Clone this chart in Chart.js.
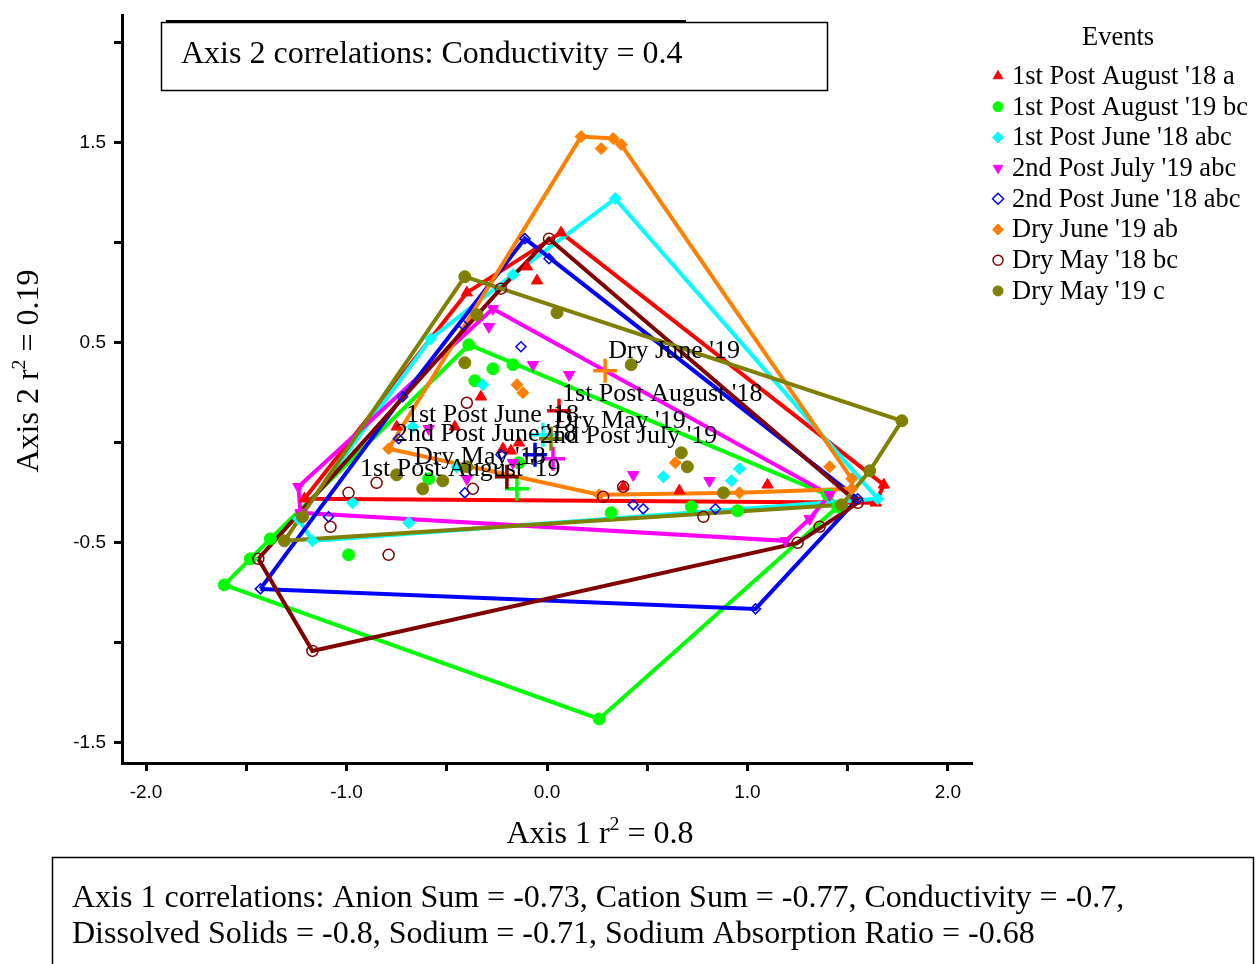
<!DOCTYPE html>
<html>
<head>
<meta charset="utf-8">
<script src="https://cdn.jsdelivr.net/npm/chart.js@4.4.1/dist/chart.umd.min.js"></script>
<style>
  html, body { margin: 0; padding: 0; background: #fff; }
  canvas { display: block; }
</style>
</head>
<body>
<canvas id="ordination" width="1260" height="964"></canvas>
<script>
// ---- Events (legend text) and centroid labels ----
const eventNames = [
  "1st Post August '18 a", "1st Post August '19 bc", "1st Post June '18 abc",
  "2nd Post July '19 abc", "2nd Post June '18 abc", "Dry June '19 ab",
  "Dry May '18 bc", "Dry May '19 c"
];
const centroidNames = [
  "1st Post August '18", "1st Post August '19", "1st Post June '18",
  "2nd Post July '19", "2nd Post June '18", "Dry June '19",
  "Dry May '18", "Dry May '19"
];

// ---- Sample scores [Axis 1, Axis 2] per event ----
const post1Aug18 = [[-1.21,-0.28],[-0.40,0.75],[0.07,1.05],[-0.10,0.88],[-0.05,0.81],[-0.33,0.23],
  [-0.75,0.08],[-0.46,0.08],[-0.22,-0.03],[-0.18,-0.04],[-0.14,0.00],[0.38,-0.22],[0.66,-0.24],
  [1.10,-0.21],[1.68,-0.21],[1.64,-0.30]];
const post1Aug19 = [[-0.39,0.49],[-0.27,0.37],[-0.17,0.39],[-0.36,0.31],[-0.59,-0.18],[-0.14,-0.10],
  [-0.99,-0.56],[-1.48,-0.58],[-1.38,-0.48],[-1.61,-0.71],[0.26,-1.38],[0.32,-0.35],[0.72,-0.32],
  [0.95,-0.34],[1.40,-0.26],[1.45,-0.32]];
const post1Jun18 = [[0.34,1.22],[-0.17,0.84],[-0.58,0.52],[-0.32,0.29],[-0.67,0.08],[-0.45,-0.12],
  [-0.97,-0.30],[-0.69,-0.40],[-1.24,-0.38],[-1.17,-0.49],[0.58,-0.17],[0.92,-0.19],[0.96,-0.13],
  [1.65,-0.28]];
const post2Jul19 = [[-0.27,0.67],[-0.29,0.58],[-0.07,0.39],[0.11,0.34],[-0.59,0.07],[-0.40,-0.18],
  [-0.17,-0.10],[0.43,-0.16],[0.81,-0.19],[-1.24,-0.22],[-1.23,-0.35],[1.41,-0.26],[1.31,-0.38],
  [1.19,-0.49]];
const post2Jun18 = [[-0.11,1.02],[0.01,0.92],[-0.42,0.59],[-0.13,0.48],[-0.72,0.23],[-0.74,0.02],
  [-0.23,-0.06],[-0.41,-0.25],[-1.09,-0.37],[0.43,-0.31],[0.48,-0.33],[0.84,-0.33],[1.55,-0.28],
  [1.04,-0.83],[-1.43,-0.73]];
const dryJun19 = [[0.17,1.53],[0.33,1.52],[0.37,1.49],[0.27,1.47],[-0.15,0.29],[-0.12,0.25],
  [0.64,-0.10],[1.41,-0.12],[1.52,-0.18],[1.52,-0.23],[0.96,-0.25],[0.26,-0.26],[-0.79,-0.03]];
const dryMay18 = [[0.01,1.02],[-0.23,0.77],[-0.40,0.20],[-0.85,-0.20],[-0.99,-0.25],[-1.08,-0.42],
  [-0.79,-0.56],[-0.37,-0.23],[0.28,-0.27],[0.38,-0.22],[0.78,-0.37],[1.36,-0.42],[1.25,-0.50],
  [1.55,-0.30],[-1.17,-1.04],[-1.44,-0.58]];
const dryMay19 = [[-0.41,0.83],[-0.35,0.64],[0.05,0.65],[-0.41,0.40],[0.42,0.39],[0.67,-0.05],
  [0.70,-0.12],[0.88,-0.25],[1.77,0.11],[1.61,-0.14],[1.47,-0.31],[-1.31,-0.49],[-1.22,-0.37],
  [-0.75,-0.16],[-0.62,-0.23],[-0.52,-0.19],[-0.40,-0.12]];
const eventScores = [post1Aug18, post1Aug19, post1Jun18, post2Jul19, post2Jun18, dryJun19, dryMay18, dryMay19];

// ---- Event centroids ----
const centroidX = [0.06, -0.15, -0.02, 0.03, -0.06, 0.29, -0.20, 0.02];
const centroidY = [0.16, -0.23, 0.04, -0.08, -0.06, 0.36, -0.17, 0.02];

// ---- Axis ticks ----
const xTickValues = [-2, -1.5, -1, -0.5, 0, 0.5, 1, 1.5, 2];
const xTickLabels = ['-2.0', '', '-1.0', '', '0.0', '', '1.0', '', '2.0'];
const yTickValues = [-1.5, -1, -0.5, 0, 0.5, 1, 1.5, 2];
const yTickLabels = ['-1.5', '', '-0.5', '', '0.5', '', '1.5', ''];

// ---- Appearance ----
const SERIF = "'Liberation Serif', 'Times New Roman', Times, serif";
const SANS = "'Liberation Sans', Arial, Helvetica, sans-serif";
const eventStyles = [
  { color: '#ff0000', pointStyle: 'triangle', rotation: 0,   radius: 6.5, filled: true },
  { color: '#00ff00', pointStyle: 'circle',   rotation: 0,   radius: 6,   filled: true },
  { color: '#00ffff', pointStyle: 'rectRot',  rotation: 0,   radius: 6,   filled: true },
  { color: '#ff00ff', pointStyle: 'triangle', rotation: 180, radius: 6.5, filled: true },
  { color: '#0000ff', pointStyle: 'rectRot',  rotation: 0,   radius: 5,   filled: false },
  { color: '#ff8000', pointStyle: 'rectRot',  rotation: 0,   radius: 6,   filled: true },
  { color: '#800000', pointStyle: 'circle',   rotation: 0,   radius: 5.5, filled: false },
  { color: '#808000', pointStyle: 'circle',   rotation: 0,   radius: 6,   filled: true }
];
// label placement relative to its centroid marker: [left edge dx, middle dy] in px
const labelOffsets = [[3,-17],[-157,-20],[-137,-20],[-13,-23],[-140,-21],[3,-20],[-93,-20],[3,-18]];

// Convex hull (monotone chain), closed back to its first vertex
function convexHull(points) {
  const p = points.slice().sort((a, b) => a[0] - b[0] || a[1] - b[1]);
  const cross = (o, a, b) => (a[0] - o[0]) * (b[1] - o[1]) - (a[1] - o[1]) * (b[0] - o[0]);
  const lower = [];
  for (const q of p) {
    while (lower.length >= 2 && cross(lower[lower.length - 2], lower[lower.length - 1], q) <= 0) lower.pop();
    lower.push(q);
  }
  const upper = [];
  for (let i = p.length - 1; i >= 0; i--) {
    const q = p[i];
    while (upper.length >= 2 && cross(upper[upper.length - 2], upper[upper.length - 1], q) <= 0) upper.pop();
    upper.push(q);
  }
  lower.pop(); upper.pop();
  const h = lower.concat(upper);
  h.push(h[0]);
  return h;
}
const toXY = arr => arr.map(([x, y]) => ({ x, y }));

const datasets = [];
eventScores.forEach((pts, i) => {
  const st = eventStyles[i];
  datasets.push({
    label: eventNames[i] + ' hull',
    data: toXY(convexHull(pts)),
    showLine: true, borderColor: st.color, borderWidth: 4, pointRadius: 0,
    fill: false, tension: 0, order: 100 - i, clip: false
  });
  datasets.push({
    label: eventNames[i],
    data: toXY(pts),
    showLine: false,
    pointStyle: st.pointStyle, rotation: st.rotation, pointRadius: st.radius,
    pointBackgroundColor: st.filled ? st.color : 'rgba(0,0,0,0)',
    pointBorderColor: st.color, pointBorderWidth: st.filled ? 1 : 1.5,
    order: 50 - i, clip: false
  });
  datasets.push({
    label: centroidNames[i] + ' centroid',
    data: [{ x: centroidX[i], y: centroidY[i] }],
    showLine: false, pointStyle: 'cross', pointRadius: 12,
    pointBorderColor: st.color, pointBorderWidth: 3.5,
    order: 20 - i, clip: false
  });
});

function drawRich(ctx, parts, x, y, size, align) {
  // parts: [text, isSuperscript]
  const widths = parts.map(([t, sup]) => {
    ctx.font = (sup ? size * 0.62 : size) + 'px ' + SERIF;
    return ctx.measureText(t).width;
  });
  const total = widths.reduce((a, b) => a + b, 0);
  let cx = align === 'center' ? x - total / 2 : x;
  ctx.textAlign = 'left';
  ctx.textBaseline = 'alphabetic';
  parts.forEach(([t, sup], k) => {
    ctx.font = (sup ? size * 0.62 : size) + 'px ' + SERIF;
    ctx.fillText(t, cx, sup ? y - size * 0.4 : y);
    cx += widths[k];
  });
}

const decorations = {
  id: 'decorations',
  afterDatasetsDraw(chart) {
    const { ctx, scales: { x, y } } = chart;
    ctx.save();
    ctx.fillStyle = '#000';
    ctx.font = '26px ' + SERIF;
    ctx.textAlign = 'left';
    ctx.textBaseline = 'middle';
    centroidNames.forEach((name, i) => {
      const px = x.getPixelForValue(centroidX[i]);
      const py = y.getPixelForValue(centroidY[i]);
      ctx.fillText(name, px + labelOffsets[i][0], py + labelOffsets[i][1]);
    });
    ctx.restore();
  },
  afterDraw(chart) {
    const ctx = chart.ctx;
    ctx.save();
    ctx.fillStyle = '#000';
    ctx.strokeStyle = '#000';

    // axis titles
    drawRich(ctx, [['Axis 1 r', false], ['2', true], [' = 0.8', false]], 600, 843, 32, 'center');
    ctx.save();
    ctx.translate(38, 371);
    ctx.rotate(-Math.PI / 2);
    drawRich(ctx, [['Axis 2 r', false], ['2', true], [' = 0.19', false]], 0, 0, 32, 'center');
    ctx.restore();

    // correlation boxes
    ctx.lineWidth = 1.5;
    ctx.strokeRect(161.5, 22.5, 666, 68);
    ctx.lineWidth = 3;
    ctx.beginPath(); ctx.moveTo(166, 21.5); ctx.lineTo(686, 21.5); ctx.stroke();
    ctx.font = '32px ' + SERIF;
    ctx.textAlign = 'left';
    ctx.textBaseline = 'alphabetic';
    ctx.fillText('Axis 2 correlations: Conductivity = 0.4', 181, 63);

    ctx.lineWidth = 1.5;
    ctx.strokeRect(52.5, 857.5, 1201, 140);
    ctx.font = '32px ' + SERIF;
    ctx.fillText('Axis 1 correlations: Anion Sum = -0.73, Cation Sum = -0.77, Conductivity = -0.7,', 72, 907);
    ctx.fillText('Dissolved Solids = -0.8, Sodium = -0.71, Sodium Absorption Ratio = -0.68', 72, 943);

    // legend
    ctx.font = '26.5px ' + SERIF;
    ctx.textAlign = 'center';
    ctx.textBaseline = 'middle';
    ctx.fillText('Events', 1118, 38);
    eventNames.forEach((name, i) => {
      const st = eventStyles[i];
      const yy = 76 + i * 30.7;
      ctx.fillStyle = st.filled ? st.color : '#fff';
      ctx.strokeStyle = st.color;
      ctx.lineWidth = st.filled ? 1 : 1.5;
      Chart.helpers.drawPoint(ctx, {
        pointStyle: st.pointStyle, rotation: st.rotation,
        radius: st.pointStyle === 'circle' ? 5 : 5.5, borderWidth: ctx.lineWidth
      }, 998, yy);
      ctx.fillStyle = '#000';
      ctx.textAlign = 'left';
      ctx.fillText(name, 1012, yy + 1);
    });
    ctx.restore();
  }
};

const tickFont = { family: SANS, size: 19 };
new Chart(document.getElementById('ordination'), {
  type: 'scatter',
  data: { datasets },
  options: {
    responsive: false,
    animation: false,
    devicePixelRatio: 1,
    layout: { padding: { left: 0, top: 10, right: 288, bottom: 0 } },
    plugins: { legend: { display: false }, tooltip: { enabled: false } },
    scales: {
      x: {
        type: 'linear', min: -2.12, max: 2.12,
        afterBuildTicks: s => { s.ticks = xTickValues.map(v => ({ value: v })); },
        afterFit: s => { s.height = 201; s.paddingLeft = 0; s.paddingRight = 0; },
        ticks: {
          autoSkip: false, maxRotation: 0, color: '#000', font: tickFont, padding: 10,
          callback: (v) => xTickLabels[xTickValues.indexOf(v)] ?? ''
        },
        grid: { drawOnChartArea: false, drawTicks: true, tickLength: 8, tickWidth: 3, tickColor: '#000' },
        border: { display: true, color: '#000', width: 3 }
      },
      y: {
        type: 'linear', min: -1.60, max: 2.135,
        afterBuildTicks: s => { s.ticks = yTickValues.map(v => ({ value: v })); },
        afterFit: s => { s.width = 122; s.paddingTop = 0; s.paddingBottom = 0; },
        ticks: {
          autoSkip: false, color: '#000', font: tickFont, padding: 8,
          callback: (v) => yTickLabels[yTickValues.indexOf(v)] ?? ''
        },
        grid: { drawOnChartArea: false, drawTicks: true, tickLength: 8, tickWidth: 3, tickColor: '#000' },
        border: { display: true, color: '#000', width: 3 }
      }
    }
  },
  plugins: [decorations]
});
</script>
</body>
</html>
